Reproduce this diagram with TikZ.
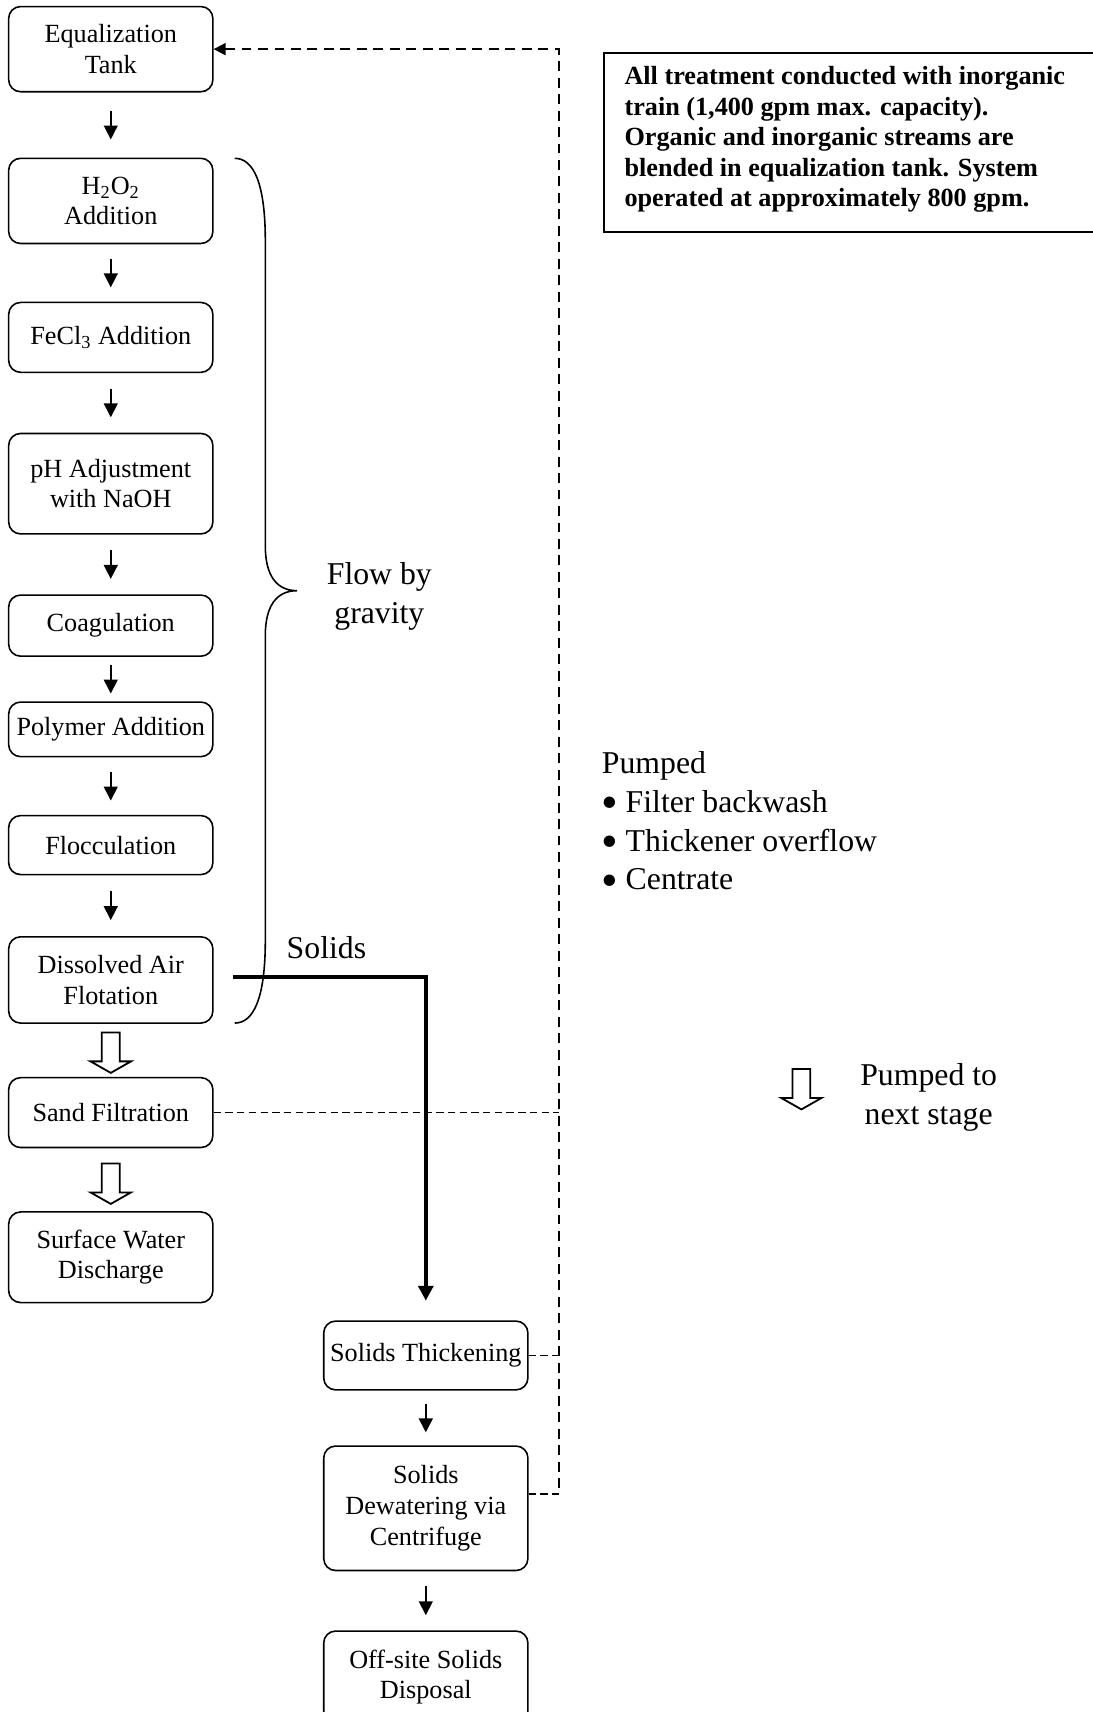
\documentclass[tikz,border=0pt]{standalone}
\usepackage{fontspec}
\setmainfont{Liberation Serif}
\usetikzlibrary{arrows.meta,positioning,calc}

\newcommand{\dotitem}{\makebox[12pt][l]{\raisebox{-3.2pt}{\scalebox{1.5}{\textbullet}}}}

\begin{document}
\begin{tikzpicture}[
    x=1pt, y=1pt,
    box/.style={draw, line width=0.8pt, rounded corners=6pt, align=center, minimum width=102.85pt, inner xsep=2pt, font=\fontsize{13.2}{15.4}\selectfont},
    notebox/.style={draw, line width=1pt, inner xsep=10.5pt, inner ysep=6.6pt, font=\fontsize{13.2}{15.4}\selectfont},
    big/.style={inner sep=0, font=\fontsize{16}{19.6}\selectfont},
    arr/.style={-{Triangle[length=7pt,width=7pt]}, line width=0.8pt},
    solidsflow/.style={-{Triangle[length=7.5pt,width=7.5pt]}, line width=2pt},
    ret/.style={dash pattern=on 5pt off 3.3pt, line width=1pt},
    feed/.style={dash pattern=on 3.7pt off 2.2pt, line width=0.8pt},
    hollow/.pic={\draw[line width=0.9pt, fill=white] (-4.5,0) -- (-4.5,-14.6) -- (-10.2,-14.6) -- (0,-20.4) -- (10.2,-14.6) -- (4.5,-14.6) -- (4.5,0) -- cycle;}
  ]
  \useasboundingbox (0,0) rectangle (550.55,-862.4);

  % treatment train
  \node[box, minimum height=42.9pt] (eq) at (55.8,-24.75) {Equalization\\Tank};
  \node[box, minimum height=42.9pt, below=32.75pt of eq] (hoo) {H\textsubscript{2}O\textsubscript{2}\\Addition};
  \node[box, minimum height=35.2pt, below=28.9pt of hoo] (fecl) {FeCl\textsubscript{3} Addition};
  \node[box, minimum height=50.6pt, below=30pt of fecl] (ph) {pH Adjustment\\with NaOH};
  \node[box, minimum height=30.8pt, below=30pt of ph] (coag) {Coagulation};
  \node[box, minimum height=27.5pt, below=22.3pt of coag] (poly) {Polymer Addition};
  \node[box, minimum height=29.7pt, below=28.9pt of poly] (floc) {Flocculation};
  \node[box, minimum height=43.45pt, below=30.55pt of floc] (daf) {Dissolved Air\\Flotation};
  \node[box, minimum height=35.2pt, below=26.7pt of daf] (sand) {Sand Filtration};
  \node[box, minimum height=45.65pt, below=31.65pt of sand] (surf) {Surface Water\\Discharge};

  % solids train
  \node[box, minimum height=34.65pt] (thick) at (214.5,-682.8) {Solids Thickening};
  \node[box, minimum height=62.7pt, below=27.5pt of thick] (dew) {Solids\\Dewatering via\\Centrifuge};
  \node[box, minimum height=46.2pt, below=29.7pt of dew] (off) {Off-site Solids\\Disposal};

  \draw[arr] ($(eq.south)!.5!(hoo.north)+(0,7.25)$) -- ++(0,-14.5);
  \draw[arr] ($(hoo.south)!.5!(fecl.north)+(0,7.25)$) -- ++(0,-14.5);
  \draw[arr] ($(fecl.south)!.5!(ph.north)+(0,7.25)$) -- ++(0,-14.5);
  \draw[arr] ($(ph.south)!.5!(coag.north)+(0,7.25)$) -- ++(0,-14.5);
  \draw[arr] ($(coag.south)!.5!(poly.north)+(0,7.25)$) -- ++(0,-14.5);
  \draw[arr] ($(poly.south)!.5!(floc.north)+(0,7.25)$) -- ++(0,-14.5);
  \draw[arr] ($(floc.south)!.5!(daf.north)+(0,7.25)$) -- ++(0,-14.5);
  \draw[arr] ($(thick.south)!.5!(dew.north)+(0,7.25)$) -- ++(0,-14.5);
  \draw[arr] ($(dew.south)!.5!(off.north)+(0,7.25)$) -- ++(0,-14.5);

  \pic at ([yshift=-4.3pt]daf.south) {hollow};
  \pic at ([yshift=-7.6pt]sand.south) {hollow};

  % gravity brace
  \draw[line width=0.8pt] (118.25,-79.75) .. controls (127.6,-79.75) and (133.65,-91.85) .. (133.65,-121.55)
    -- (133.65,-275) .. controls (133.65,-290.4) and (139.7,-297.55) .. (149.6,-297.55) coordinate (tip)
    .. controls (139.7,-297.55) and (133.65,-304.7) .. (133.65,-320.1)
    -- (133.65,-473.55) .. controls (133.65,-503.25) and (127.6,-515.35) .. (118.25,-515.35);
  \node[big, align=center, anchor=west] (grav) at ([shift={(14.85pt,-3pt)}]tip) {Flow by\\gravity};

  % solids
  \draw[solidsflow] ([xshift=9.6pt, yshift=1.4pt]daf.east) -| ([yshift=9.9pt]thick.north);
  \node[big] (solidslbl) at (164.45,-477.4) {Solids};

  % pumped return
  \path ([yshift=7.15pt]dew.east) coordinate (dewr);
  \draw[ret, {Triangle[length=6pt,width=6pt]}-] (eq.east) -- ++(174,0) coordinate (rtop) -- (rtop |- dewr);
  \draw[feed] (sand.east) -- (sand.east -| rtop);
  \draw[feed] (thick.east) -- (thick.east -| rtop);
  \draw[feed] (dewr) -- (dewr -| rtop);

  \node[big, align=left, anchor=north west] (pumped) at (303,-378.2) {Pumped\\\dotitem Filter backwash\\\dotitem Thickener overflow\\\dotitem Centrate};

  \node[notebox, anchor=north west] (note) at (303.6,-26.4) {\parbox[c][77pt][t]{239pt}{\bfseries All treatment conducted with inorganic\\train (1,400 gpm max. capacity).\\Organic and inorganic streams are\\blended in equalization tank. System\\operated at approximately 800 gpm.}};

  % legend
  \pic at (403.7,-538.45) {hollow};
  \node[big, align=center] (nextlbl) at (467.8,-552.6) {Pumped to\\next stage};
\end{tikzpicture}
\end{document}
